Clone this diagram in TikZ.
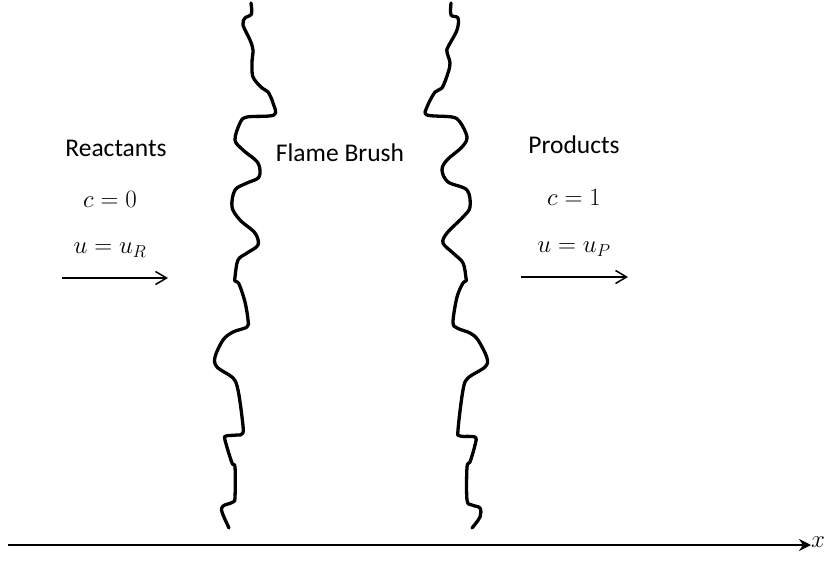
\documentclass[tikz,border=0pt]{standalone}
\usepackage{fontspec}
\setmainfont{Carlito}
\usetikzlibrary{arrows.meta}
\begin{document}
\begin{tikzpicture}[x=1pt,y=-1pt,
  front/.style={line width=3.3pt,line cap=round,line join=round},
  flow/.style={line width=1.5pt,-{Straight Barb[length=11pt,width=13pt,line width=1.5pt]}},
  lbl/.style={font=\fontsize{25.5}{30}\selectfont,inner sep=0pt},
  mth/.style={font=\fontsize{26.5}{31}\selectfont,inner sep=0pt}]
\useasboundingbox (0,0) rectangle (825,563);
% left flame front
\draw[front] plot[smooth,tension=0.55] coordinates {
(251,3) (251.5,14) (245,18) (243,25) (250,40) (253,50) (252,62) (253,77) (262,88) (268,92) (273,103) (274,115)
(247,117) (240,123) (235,140) (243,150) (258,163) (259,177) (247,183) (235,190) (232,207) (240,220) (255,233) (258,245)
(247,253) (238,260) (235,277) (235,281) (239,284) (245,302) (248,320) (247,327) (233,332) (223,340) (215,357) (217,367)
(233,378) (238,390) (242,417) (243,433) (237,435) (226,436) (225,440) (232,463) (235,467) (235,497) (233,502) (223,506)
(222,512) (229,528)};
% right flame front
\draw[front] plot[smooth,tension=0.55] coordinates {
(451,3) (451,15) (458,18) (457,30) (448,47) (447,52) (450,63) (448,73) (442,88) (435,92) (427,107) (427,115)
(452,117) (460,122) (467,137) (462,147) (447,160) (442,170) (448,182) (467,190) (470,207) (463,217) (447,233) (443,243)
(453,253) (463,263) (466,278) (466,281) (463,283) (457,297) (453,322) (457,328) (470,333) (478,340) (487,358) (485,367)
(468,378) (463,390) (458,430) (460,436) (475,437) (475,445) (470,462) (467,467) (467,500) (472,505) (480,508) (480,517)
(472,528)};
% labels
\node[lbl] (reac) at (116,148) {Reactants};
\node[mth] (c0) at (110,199) {$c=0$};
\node[mth] (uR) at (110,250) {$u=u_R$};
\node[lbl] (flame) at (340,153) {Flame Brush};
\node[lbl] (prod) at (574,145) {Products};
\node[mth] (c1) at (574,197) {$c=1$};
\node[mth] (uP) at (574,249) {$u=u_P$};
% flow arrows
\coordinate (ra) at (62,278);
\coordinate (rb) at (168,278);
\coordinate (pa) at (521,277);
\coordinate (pb) at (628,277);
\draw[flow] (ra) -- (rb);
\draw[flow] (pa) -- (pb);
% x axis
\coordinate (xa) at (8,545);
\node[mth,anchor=west] (xl) at (811,542) {$x$};
\draw[line width=2.3pt,-{Stealth[length=12pt,width=12pt,inset=4pt]}] (xa) -- (xa -| xl.west);
\end{tikzpicture}
\end{document}
